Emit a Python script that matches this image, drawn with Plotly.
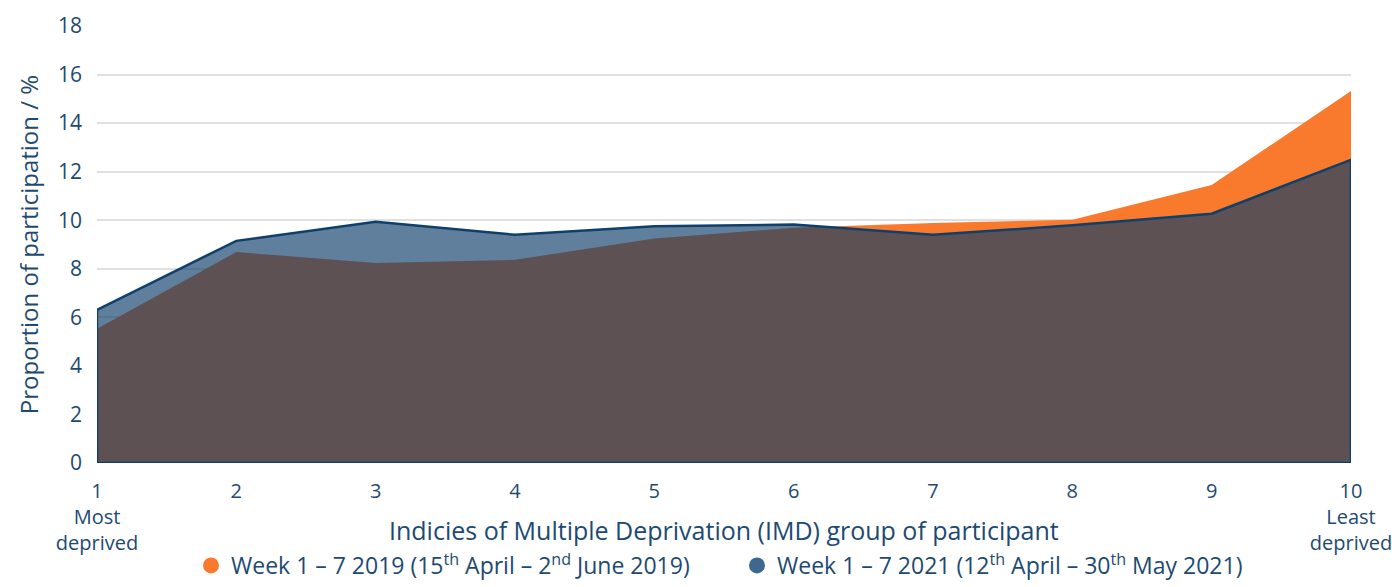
import plotly.graph_objects as go

imd_groups = [1, 2, 3, 4, 5, 6, 7, 8, 9, 10]
tick_labels = ["1<br>Most<br>deprived", "2", "3", "4", "5", "6", "7", "8", "9", "10<br>Least<br>deprived"]
y_ticks = [0, 2, 4, 6, 8, 10, 12, 14, 16, 18]

participation_2019 = [5.53, 8.69, 8.24, 8.37, 9.25, 9.69, 9.89, 10.02, 11.45, 15.32]
participation_2021 = [6.31, 9.15, 9.94, 9.40, 9.75, 9.82, 9.40, 9.79, 10.27, 12.49]

name_2019 = "Week 1 – 7 2019 (15<sup>th</sup> April – 2<sup>nd</sup> June 2019)"
name_2021 = "Week 1 – 7 2021 (12<sup>th</sup> April – 30<sup>th</sup> May 2021)"

ORANGE = "#f97a2d"
BLUE_FILL = "rgba(13,61,105,0.66)"
BLUE_LINE = "#0f406c"
BLUE_LEGEND = "#3e6890"
TEXT = "#1d4a72"
FONT = "Open Sans"

fig = go.Figure()

fig.add_trace(go.Scatter(
    x=imd_groups, y=participation_2019, mode="lines", fill="tozeroy",
    fillcolor=ORANGE, line=dict(color=ORANGE, width=0), showlegend=False,
    hoverinfo="x+y"))

# closed outline for 2021 series (down to baseline and back)
bx = [imd_groups[0]] + imd_groups + [imd_groups[-1], imd_groups[0]]
by = [0] + participation_2021 + [0, 0]
fig.add_trace(go.Scatter(
    x=bx, y=by, mode="lines", fill="toself", fillcolor=BLUE_FILL,
    line=dict(color=BLUE_LINE, width=2.5), showlegend=False, hoverinfo="x+y"))

# legend entries
fig.add_trace(go.Scatter(x=[None], y=[None], mode="markers", name=name_2019,
                         marker=dict(color=ORANGE, size=19, symbol="circle")))
fig.add_trace(go.Scatter(x=[None], y=[None], mode="markers", name=name_2021,
                         marker=dict(color=BLUE_LEGEND, size=19, symbol="circle")))

M_T, M_B = 26, 124
plot_h = 587 - M_T - M_B
plot_w = 1392 - 97 - 41
bottom_px = 587 - M_B

fig.update_layout(
    width=1392, height=587,
    margin=dict(l=97, r=41, t=M_T, b=M_B, autoexpand=False),
    plot_bgcolor="white", paper_bgcolor="white",
    font=dict(family=FONT, color=TEXT, size=20),
    legend=dict(orientation="h", x=0.5 + 13 / plot_w, xanchor="center",
                y=-(587 - bottom_px) / plot_h, yanchor="bottom",
                font=dict(size=23, color=TEXT), itemwidth=30, entrywidth=501,
                bgcolor="rgba(0,0,0,0)"),
    annotations=[dict(text="Indicies of Multiple Deprivation (IMD) group of participant",
                      x=0.5, xref="paper", y=-(530 - bottom_px) / plot_h, yref="paper",
                      showarrow=False, font=dict(size=25, color=TEXT),
                      xanchor="center", yanchor="middle")],
)

fig.update_xaxes(
    range=[1, 10], tickmode="array", tickvals=imd_groups, ticktext=tick_labels,
    showgrid=False, zeroline=False, showline=False, ticks="", automargin=False,
    ticklabeloverflow="allow",
    tickfont=dict(size=20, color=TEXT), ticklabelstandoff=14,
)
fig.update_yaxes(
    range=[0, 18], tickmode="array", tickvals=y_ticks,
    showgrid=True, gridcolor="rgba(0,0,0,0.12)", gridwidth=1.5, zeroline=False,
    showline=False, ticks="", layer="above traces", automargin=False,
    tickfont=dict(size=21, color=TEXT), ticklabelstandoff=14,
    title=dict(text="Proportion of participation / %", font=dict(size=24, color=TEXT), standoff=12),
)

fig.write_html("out.html", config={"displayModeBar": False},
               post_script="document.body.style.margin='0';")
